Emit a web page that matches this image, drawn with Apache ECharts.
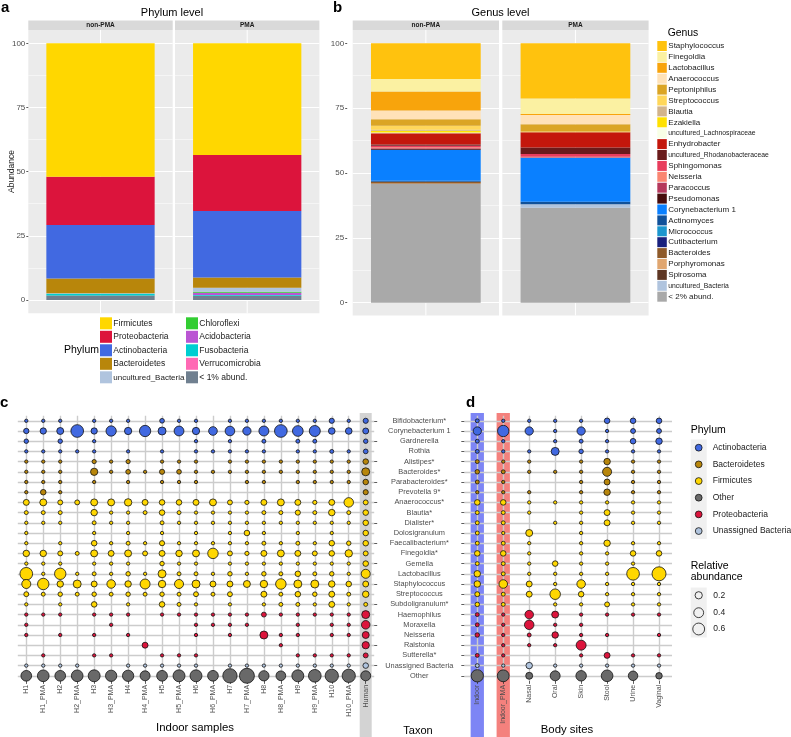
<!DOCTYPE html>
<html><head><meta charset="utf-8">
<script src="https://cdn.jsdelivr.net/npm/echarts@6/dist/echarts.min.js"></script>
<style>html,body{margin:0;padding:0;background:#fff}#c{width:791px;height:737px}</style>
</head><body><div id="c"></div>
<script>
// ---------- Panel a: phylum level ----------
const facets = ['non-PMA', 'PMA'];
const phylumLevels = ['Firmicutes','Proteobacteria','Actinobacteria','Bacteroidetes','uncultured_Bacteria','Chloroflexi','Acidobacteria','Fusobacteria','Verrucomicrobia','< 1% abund.'];
const phylumNonPMA = [52.0, 18.8, 20.8, 5.8, 0.2, 0.0, 0.0, 0.6, 0.0, 1.8];
const phylumPMA    = [43.5, 21.8, 25.9, 4.0, 1.6, 0.4, 0.9, 0.2, 0.1, 1.6];
const phylumColors = ['#FFD700','#DC143C','#4169E1','#B8860B','#B0C4DE','#32CD32','#BA55D3','#00CED1','#FF69B4','#708090'];

// ---------- Panel b: genus level ----------
const genusLevels = ['Staphylococcus','Finegoldia','Lactobacillus','Anaerococcus','Peptoniphilus','Streptococcus','Blautia','Ezakiella','uncultured_Lachnospiraceae','Enhydrobacter','uncultured_Rhodanobacteraceae','Sphingomonas','Neisseria','Paracoccus','Pseudomonas','Corynebacterium 1','Actinomyces','Micrococcus','Cutibacterium','Bacteroides','Porphyromonas','Spirosoma','uncultured_Bacteria','< 2% abund.'];
const genusNonPMA = [13.8, 4.8, 7.3, 3.4, 2.5, 1.5, 0.4, 0.7, 0.3, 4.3, 0.5, 0.6, 0.4, 0.2, 0.3, 12.0, 0.4, 0, 0, 0.6, 0.2, 0, 0, 45.8];
const genusPMA    = [21.3, 6.0, 0.3, 3.6, 2.8, 0.3, 0, 0, 0, 5.9, 2.5, 1.0, 0.2, 0.2, 0, 17.0, 0.9, 0, 0, 0, 0, 0, 1.4, 36.6];
const genusColors = ['#FFC20E','#FBF1A2','#F8A40C','#FFE2B8','#DBA524','#FFD75A','#D2B48C','#FFE100','#F8FFE6','#C4170C','#6A1B1B','#E83C5C','#FA8672','#B5385C','#470C0C','#0A80FF','#10519A','#1B96CE','#18207D','#8E5A2A','#E0A670','#5E3724','#B0C4DE','#A9A9A9'];

// ---------- Panel c / d: bubble grids ----------
const samples = ['H1','H1_PMA','H2','H2_PMA','H3','H3_PMA','H4','H4_PMA','H5','H5_PMA','H6','H6_PMA','H7','H7_PMA','H8','H8_PMA','H9','H9_PMA','H10','H10_PMA','Human'];
const taxa = ['Bifidobacterium*','Corynebacterium 1','Gardnerella','Rothia','Alistipes*','Bacteroides*','Parabacteroides*','Prevotella 9*','Anaerococcus*','Blautia*','Dialister*','Dolosigranulum','Faecalibacterium*','Finegoldia*','Gemella','Lactobacillus','Staphylococcus','Streptococcus','Subdoligranulum*','Haemophilus','Moraxella','Neisseria','Ralstonia','Sutterella*','Unassigned Bacteria','Other'];
const taxonPhylum = ['Actinobacteria','Actinobacteria','Actinobacteria','Actinobacteria','Bacteroidetes','Bacteroidetes','Bacteroidetes','Bacteroidetes','Firmicutes','Firmicutes','Firmicutes','Firmicutes','Firmicutes','Firmicutes','Firmicutes','Firmicutes','Firmicutes','Firmicutes','Firmicutes','Proteobacteria','Proteobacteria','Proteobacteria','Proteobacteria','Proteobacteria','Unassigned Bacteria','Other'];
// relative abundance, one row per taxon, one value per sample (0 = absent)
const indoorAbund = [
 [.01,.01,.01,0,.01,.01,.01,0,.06,.01,.01,0,.01,.01,.01,.01,.01,.01,.08,.01,.08],
 [.09,.14,.18,.69,.14,.44,.2,.54,.25,.4,.2,.3,.38,.27,.41,.69,.48,.51,.16,.16,.12],
 [.05,0,.05,0,.01,0,0,0,0,0,.01,0,.01,0,.03,0,.03,.03,0,0,.05],
 [.01,.01,.01,.01,.01,0,.01,0,.01,0,.01,.01,.01,.01,.01,0,.01,.01,.03,.01,.06],
 [.01,.01,.01,0,.04,.01,.04,0,.01,.01,.01,0,.01,.01,.01,.01,.01,.01,.01,.01,.1],
 [.01,.01,.01,0,.2,.01,.06,.01,.08,.06,.01,.01,.01,.01,.01,.01,.01,.01,.01,.01,.25],
 [.01,.01,.01,0,.01,0,.01,0,.01,.01,.01,0,0,.01,.01,0,.01,.01,.01,.01,.1],
 [.01,.1,.01,0,0,0,0,0,0,0,0,0,0,0,0,0,0,0,0,0,.08],
 [.12,.18,.07,.07,.18,.18,.21,.12,.1,.1,.12,.18,.07,.04,.12,.18,.12,.04,.12,.37,.07],
 [.03,.03,.03,0,.15,.01,.01,.03,.1,.03,.01,.01,.01,.01,.03,.03,.08,.03,.15,.03,.1],
 [.01,.01,.01,0,.03,.01,.01,0,.03,.01,.01,.01,.01,.01,.01,.01,.01,.01,.01,.01,.1],
 [.01,0,0,0,.01,0,.01,0,.01,0,.01,0,.01,.1,.01,0,.01,0,.01,0,.1],
 [.01,0,.01,0,.1,.01,.03,.01,.08,.01,.01,.01,.01,.01,.03,.01,.03,.01,.1,.05,.1],
 [.15,.15,.07,.03,.18,.12,.18,.07,.12,.15,.18,.46,.07,.04,.12,.18,.12,.07,.1,.21,.07],
 [.01,.01,.01,0,.01,.01,.01,0,.05,.01,.01,0,.01,.01,.01,.01,.01,.01,.01,.01,.1],
 [.69,.01,.55,.01,.03,.01,.05,.01,.25,.03,.03,.01,.05,.01,.05,.03,.1,.03,.05,.01,.33],
 [.33,.55,.15,.25,.12,.29,.15,.41,.21,.33,.25,.12,.12,.18,.21,.46,.25,.25,.15,.1,.12],
 [.07,.03,.05,.03,.05,.03,.05,.03,.05,.03,.07,.03,.07,0,.12,.03,.1,.05,.12,.03,.15],
 [.01,0,.01,0,.1,0,.01,0,.1,.03,.01,0,.01,0,.01,.03,.03,.01,.12,.01,.03],
 [.01,.01,.01,0,.01,.01,.01,0,.01,.01,.01,.01,.01,.01,.07,.01,.01,.01,.01,.01,.25],
 [.01,0,0,0,0,.01,0,0,0,0,.01,.01,.01,.01,0,0,.01,0,.01,.01,.29],
 [.01,0,.01,0,.01,0,.01,0,0,0,.01,0,.01,0,.25,.01,.01,0,.01,.01,.18],
 [0,0,0,0,0,0,0,.12,0,0,0,0,0,0,0,.01,0,0,0,0,.2],
 [0,.01,0,0,.01,.01,0,0,.01,.01,.01,0,0,0,0,0,.01,.01,.01,.01,.07],
 [.01,.01,.01,.01,0,0,.01,.01,.01,.01,.01,0,.01,.01,.01,.01,.01,.01,.01,.01,.1],
 [.48,.58,.48,.58,.61,.54,.54,.41,.48,.61,.61,.48,.89,.98,.44,.39,.61,.69,.76,.76,.41]
];
const bodySites = ['Indoor','Indoor_PMA','Nasal','Oral','Skin','Stool','Urine','Vaginal'];
// relative abundance, one row per body site, one value per taxon (0 = absent)
const bodyAbund = [
 [.03,.27,.03,.03,.03,.05,.03,.01,.1,.03,.03,.03,.03,.1,.03,.15,.15,.07,.05,.03,.03,.05,0,.03,.03,.65],
 [.01,.55,.01,.01,.01,.03,.01,.01,.1,.03,.03,.01,.03,.1,.03,.03,.29,.03,.03,.01,.01,.01,.01,.01,.01,.6],
 [.01,.27,0,.01,.01,.01,0,.01,.01,.01,0,.18,.01,.01,.01,.01,.12,.12,0,.29,.37,.03,.01,0,.15,.18],
 [.01,.01,.01,.25,0,.01,0,0,.01,0,.01,0,0,0,.1,.01,.01,.46,.01,.18,.01,.15,.01,0,.01,.41],
 [.01,.27,.03,.05,.01,.01,.01,.01,.01,.01,.01,.01,.01,.01,.01,.01,.29,.1,.01,.01,.01,.01,.41,.01,.01,.46],
 [.1,.01,.01,.01,.15,.33,.12,.15,.01,.12,.12,0,.15,.01,.01,.01,.01,.01,.07,.01,0,.01,0,.12,.01,.58],
 [.1,.07,.1,.01,.01,.01,.01,.01,.01,.01,.01,0,.01,.1,.01,.69,.01,.01,.01,.01,0,0,0,.01,.01,.37],
 [.1,.07,.15,.01,.01,.01,.01,.01,.01,.01,.01,0,.01,.1,0,.85,.01,.01,.01,.01,0,.01,0,.01,.01,.15]
];
const bubblePhyla = ['Actinobacteria','Bacteroidetes','Firmicutes','Other','Proteobacteria','Unassigned Bacteria'];
const bubbleColors = ['#4169E1','#B8860B','#FFD700','#696969','#DC143C','#B0C4DE'];
const sizeBreaks = [0.2, 0.4, 0.6];

// ---------- build ----------
const FONT = '"Liberation Sans", Arial, Helvetica, sans-serif';
const sz = v => Math.sqrt(9 + 220 * v);
const chart = echarts.init(document.getElementById('c'), null, {renderer: 'canvas'});

const G = [
  {left: 28.3,  top: 43.3, width: 144.4, height: 256.7},
  {left: 175,   top: 43.3, width: 144.4, height: 256.7},
  {left: 352.7, top: 43.3, width: 146.3, height: 259.4},
  {left: 502.3, top: 43.3, width: 146.3, height: 259.4},
  {left: 17.8,  top: 415.7, width: 356.4, height: 265.2},
  {left: 464.3, top: 415.7, width: 207.7, height: 265.2}
];
const grid = G.map(g => Object.assign({containLabel: false}, g));

const xAxis = [], yAxis = [];
for (let i = 0; i < 4; i++) {
  xAxis.push({type: 'category', gridIndex: i, data: [facets[i % 2]], show: false});
  yAxis.push({
    type: 'value', gridIndex: i, min: 0, max: 100, interval: 25,
    offset: i === 2 ? 5.5 : 0,
    axisLine: {show: false},
    axisTick: {show: i % 2 === 0, length: 2, lineStyle: {color: '#333', width: 0.8}},
    axisLabel: {show: i % 2 === 0, fontSize: 8, color: '#4d4d4d', margin: 3, fontFamily: FONT},
    splitLine: {show: true, lineStyle: {color: '#ffffff', width: 1}},
    minorTick: {show: false, splitNumber: 2},
    minorSplitLine: {show: true, lineStyle: {color: '#ffffff', width: 0.5}}
  });
}
const lineStyleGrid = {color: '#cccccc', width: 1.4};
const oddOnly = (idx) => idx % 2 === 1;
// panel c axes
xAxis.push({type: 'category', gridIndex: 4, data: samples, boundaryGap: true,
  axisLine: {show: false},
  axisTick: {show: true, alignWithLabel: true, length: 3, lineStyle: {color: '#333', width: 0.8}},
  axisLabel: {rotate: 90, interval: 0, fontSize: 7, color: '#4d4d4d', margin: 4, fontFamily: FONT},
  splitLine: {show: false}});
xAxis.push({type: 'category', gridIndex: 4, data: Array.from({length: samples.length * 2 + 1}, (_, i) => 'g' + i), boundaryGap: false,
  axisLine: {show: false}, axisTick: {show: false}, axisLabel: {show: false},
  splitLine: {show: true, interval: oddOnly, lineStyle: lineStyleGrid}});
yAxis.push({type: 'category', gridIndex: 4, data: taxa, inverse: true, position: 'right', boundaryGap: true,
  axisLine: {show: false},
  axisTick: {show: true, alignWithLabel: true, length: 3, lineStyle: {color: '#333', width: 0.8}},
  axisLabel: {show: false}, splitLine: {show: false}});
yAxis.push({type: 'category', gridIndex: 4, data: Array.from({length: taxa.length * 2 + 1}, (_, i) => 'r' + i), boundaryGap: false,
  axisLine: {show: false}, axisTick: {show: false}, axisLabel: {show: false},
  splitLine: {show: true, interval: oddOnly, lineStyle: lineStyleGrid}});
// panel d axes
xAxis.push({type: 'category', gridIndex: 5, data: bodySites, boundaryGap: true,
  axisLine: {show: false},
  axisTick: {show: true, alignWithLabel: true, length: 3, lineStyle: {color: '#333', width: 0.8}},
  axisLabel: {rotate: 90, interval: 0, fontSize: 7, color: '#4d4d4d', margin: 4, fontFamily: FONT},
  splitLine: {show: false}});
xAxis.push({type: 'category', gridIndex: 5, data: Array.from({length: bodySites.length * 2 + 1}, (_, i) => 'g' + i), boundaryGap: false,
  axisLine: {show: false}, axisTick: {show: false}, axisLabel: {show: false},
  splitLine: {show: true, interval: oddOnly, lineStyle: lineStyleGrid}});
yAxis.push({type: 'category', gridIndex: 5, data: taxa, inverse: true, boundaryGap: true,
  axisLine: {show: false},
  axisTick: {show: true, alignWithLabel: true, length: 3, lineStyle: {color: '#333', width: 0.8}},
  axisLabel: {interval: 0, fontSize: 7.4, color: '#4d4d4d', align: 'center', margin: 45, fontFamily: FONT},
  splitLine: {show: false}});
yAxis.push({type: 'category', gridIndex: 5, data: Array.from({length: taxa.length * 2 + 1}, (_, i) => 'r' + i), boundaryGap: false,
  axisLine: {show: false}, axisTick: {show: false}, axisLabel: {show: false},
  splitLine: {show: true, interval: oddOnly, lineStyle: lineStyleGrid}});

const series = [];
// stacked bars: ggplot stacks the first level on top, so push in reverse
function addBars(levels, vals0, vals1, colors, g0) {
  [vals0, vals1].forEach((vals, f) => {
    for (let k = levels.length - 1; k >= 0; k--) {
      series.push({type: 'bar', name: levels[k], stack: 's' + (g0 + f), xAxisIndex: g0 + f, yAxisIndex: g0 + f,
        data: [vals[k]], barWidth: '75%', itemStyle: {color: colors[k]}, silent: true, animation: false});
    }
  });
}
addBars(phylumLevels, phylumNonPMA, phylumPMA, phylumColors, 0);
addBars(genusLevels, genusNonPMA, genusPMA, genusColors, 2);

bubblePhyla.forEach((p, pi) => {
  const dc = [], dd = [];
  taxa.forEach((t, r) => {
    if (taxonPhylum[r] !== p) return;
    samples.forEach((s, j) => { const v = indoorAbund[r][j]; if (v > 0) dc.push([s, t, v]); });
    bodySites.forEach((s, j) => { const v = bodyAbund[j][r]; if (v > 0) dd.push([s, t, v]); });
  });
  const common = {type: 'scatter', symbol: 'circle', symbolSize: d => sz(d[2]), silent: true, animation: false, clip: false, z: 3,
    itemStyle: {color: bubbleColors[pi], borderColor: '#111', borderWidth: 0.8, opacity: 1}};
  series.push(Object.assign({name: 'c ' + p, xAxisIndex: 4, yAxisIndex: 4, data: dc}, common));
  series.push(Object.assign({name: 'd ' + p, xAxisIndex: 6, yAxisIndex: 6, data: dd}, common));
});

const legend = [
  {left: 100, top: 317.3, orient: 'vertical', padding: 0, itemWidth: 12, itemHeight: 12, itemGap: 1.5, icon: 'rect', selectedMode: false,
   data: phylumLevels.slice(0, 5), textStyle: {fontSize: 8.5, color: '#1a1a1a', fontFamily: FONT, padding: [0, 0, 0, -3.7], rich: {s: {fontSize: 8, color: '#1a1a1a'}}},
   formatter: n => n.startsWith('uncultured') ? '{s|' + n + '}' : n},
  {left: 186, top: 317.3, orient: 'vertical', padding: 0, itemWidth: 12, itemHeight: 12, itemGap: 1.5, icon: 'rect', selectedMode: false,
   data: phylumLevels.slice(5), textStyle: {fontSize: 8.5, color: '#1a1a1a', fontFamily: FONT, padding: [0, 0, 0, -3.7]}},
  {left: 657.3, top: 41, orient: 'vertical', padding: 0, itemWidth: 9.5, itemHeight: 10, itemGap: 0.9, icon: 'rect', selectedMode: false,
   data: genusLevels, textStyle: {fontSize: 8, color: '#1a1a1a', fontFamily: FONT, padding: [0, 0, 0, -3.5], rich: {s: {fontSize: 6.8, color: '#1a1a1a'}}},
   formatter: n => n.startsWith('uncultured') ? '{s|' + n + '}' : n}
];

const T = (x, y, text, o) => Object.assign({type: 'text', x, y, silent: true,
  style: Object.assign({text, fill: '#000', font: (o && o.font) || ('10px ' + FONT), align: 'left', verticalAlign: 'middle'}, (o && o.style) || {})},
  (o && o.el) || {});
const graphic = [];
// panel backgrounds & strips
[[28.3, 172.7, 30, 313.2], [175, 319.4, 30, 313.2], [352.7, 499, 30, 315.4], [502.3, 648.6, 30, 315.4]].forEach((b, i) => {
  graphic.push({type: 'rect', z: -1, silent: true, shape: {x: b[0], y: b[2], width: b[1] - b[0], height: b[3] - b[2]}, style: {fill: '#EBEBEB'}});
  const cx = (b[0] + b[1]) / 2;
  graphic.push({type: 'line', z: -1, silent: true, shape: {x1: cx, y1: b[2], x2: cx, y2: b[3]}, style: {stroke: '#fff', lineWidth: 1}});
  graphic.push({type: 'rect', z: -1, silent: true, shape: {x: b[0], y: 20.5, width: b[1] - b[0], height: 9.5}, style: {fill: '#D9D9D9'}});
  graphic.push(T(cx, 25.4, facets[i % 2], {font: 'bold 6.5px ' + FONT, style: {align: 'center', fill: '#1a1a1a'}}));
});
graphic.push(T(1, 7.5, 'a', {font: 'bold 15px ' + FONT}));
graphic.push(T(333, 7.5, 'b', {font: 'bold 15px ' + FONT}));
graphic.push(T(0, 403, 'c', {font: 'bold 15px ' + FONT}));
graphic.push(T(466, 403, 'd', {font: 'bold 15px ' + FONT}));
graphic.push(T(172, 12.5, 'Phylum level', {font: '11px ' + FONT, style: {align: 'center'}}));
graphic.push(T(500.5, 12.5, 'Genus level', {font: '11px ' + FONT, style: {align: 'center'}}));
graphic.push(T(12, 171.5, 'Abundance', {font: '8.5px ' + FONT, style: {align: 'center', fill: '#1a1a1a'}, el: {rotation: Math.PI / 2}}));
graphic.push(T(64, 350.5, 'Phylum', {font: '10.5px ' + FONT}));
graphic.push(T(667.7, 33.3, 'Genus', {font: '10.4px ' + FONT}));
graphic.push(T(195, 728, 'Indoor samples', {font: '11.4px ' + FONT, style: {align: 'center'}}));
graphic.push(T(418, 731, 'Taxon', {font: '11px ' + FONT, style: {align: 'center'}}));
graphic.push(T(567, 730, 'Body sites', {font: '11.4px ' + FONT, style: {align: 'center'}}));
// bubble legend
graphic.push(T(690.7, 430.5, 'Phylum', {font: '10.5px ' + FONT}));
graphic.push({type: 'rect', silent: true, shape: {x: 690.7, y: 439.5, width: 16, height: 99.5}, style: {fill: '#F0F0F0'}});
bubblePhyla.forEach((p, i) => {
  const cy = 447.7 + 16.67 * i;
  graphic.push({type: 'circle', silent: true, shape: {cx: 698.7, cy, r: 3.4}, style: {fill: bubbleColors[i], stroke: '#111', lineWidth: 0.8}});
  graphic.push(T(712.7, cy, p, {font: '8.5px ' + FONT, style: {fill: '#1a1a1a'}}));
});
graphic.push(T(690.7, 560.5, 'Relative\nabundance', {font: '10.5px ' + FONT, style: {verticalAlign: 'top', lineHeight: 11}}));
graphic.push({type: 'rect', silent: true, shape: {x: 690.7, y: 587.5, width: 16, height: 50}, style: {fill: '#F0F0F0'}});
sizeBreaks.forEach((v, i) => {
  const cy = [595.3, 612.7, 629][i];
  graphic.push({type: 'circle', silent: true, shape: {cx: 698.7, cy, r: sz(v) / 2}, style: {fill: '#F0F0F0', stroke: '#111', lineWidth: 0.8}});
  graphic.push(T(713.3, cy, v.toFixed(1), {font: '8.5px ' + FONT, style: {fill: '#1a1a1a'}}));
});

chart.setOption({
  animation: false,
  textStyle: {fontFamily: FONT},
  grid, xAxis, yAxis, series, legend, graphic
});

// highlight bands behind "Human", "Indoor" and "Indoor_PMA" columns
const bx = (axisIdx, idx) => chart.convertToPixel({xAxisIndex: axisIdx}, idx);
const bands = [
  {x: bx(4, samples.indexOf('Human')), w: 12, c: '#D3D3D3'},
  {x: bx(6, bodySites.indexOf('Indoor')), w: 13.3, c: '#7D85F5'},
  {x: bx(6, bodySites.indexOf('Indoor_PMA')), w: 13.3, c: '#F4817D'}
];
const extra = bands.map((b, i) => ({id: 'band' + i, type: 'rect', z: -1, silent: true,
  shape: {x: b.x - b.w / 2, y: 413, width: b.w, height: 737 - 413}, style: {fill: b.c}}));
chart.setOption({graphic: graphic.concat(extra)}, {replaceMerge: ['graphic']});
</script>
</body></html>
